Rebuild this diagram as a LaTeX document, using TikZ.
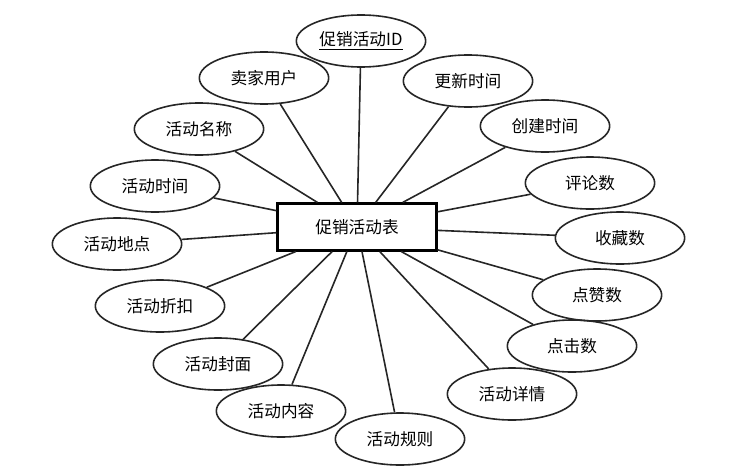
\documentclass[tikz,border=0pt]{standalone}
\usepackage{fontspec}
\setmainfont{Noto Sans CJK SC}
\usetikzlibrary{shapes.geometric}
\begin{document}
\begin{tikzpicture}[
  x=0.75pt, y=-0.75pt,
  attr/.style = {draw=black!85, ellipse, line width=1.2pt, minimum width=97pt, minimum height=39pt, inner sep=0pt, font=\fontsize{12.5}{14}\selectfont},
  entity/.style = {draw=black, line width=1.8pt, minimum width=119pt, minimum height=35pt, inner sep=0pt, font=\fontsize{12.5}{14}\selectfont},
  link/.style = {draw=black!85, line width=1.2pt}
]
\useasboundingbox (0,0) rectangle (755,475);

% Entity
\node[entity] (promo) at (357,227) {促销活动表};

% Attributes
\node[attr] (pid) at (361,41) {\underline{促销活动ID}};
\node[attr] (seller) at (264,78) {卖家用户};
\node[attr] (updated) at (468,81) {更新时间};
\node[attr] (created) at (545,126) {创建时间};
\node[attr] (title) at (199,129) {活动名称};
\node[attr] (time) at (155,186) {活动时间};
\node[attr] (comments) at (590,183) {评论数};
\node[attr] (favs) at (620,238) {收藏数};
\node[attr] (place) at (117,244) {活动地点};
\node[attr] (discount) at (160,306) {活动折扣};
\node[attr] (likes) at (597,295) {点赞数};
\node[attr] (clicks) at (572,346) {点击数};
\node[attr] (cover) at (218,364) {活动封面};
\node[attr] (details) at (512,394) {活动详情};
\node[attr] (content) at (281,411) {活动内容};
\node[attr] (rules) at (400,439) {活动规则};

% Connections
\foreach \a in {pid, seller, updated, created, title, time, comments, favs,
  place, discount, likes, clicks, cover, details, content, rules} {
  \draw[link] (promo) -- (\a);
}

\end{tikzpicture}
\end{document}
